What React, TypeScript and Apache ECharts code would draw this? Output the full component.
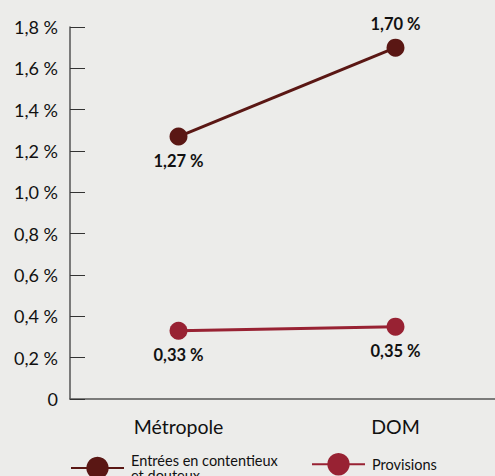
import React, { useEffect, useRef } from "react";
import * as echarts from "echarts";

// Categories and values (in %)
const categories = ["Métropole", "DOM"];
const contentieuxName = "Entrées en contentieux\net douteux";
const contentieuxValues = [1.27, 1.7];
const provisionsName = "Provisions";
const provisionsValues = [0.33, 0.35];

// Label placement per point: above or below the marker
const contentieuxLabelPos = ["bottom", "top"];
const provisionsLabelPos = ["bottom", "bottom"];

const DARK = "#5a1714";
const RED = "#982233";
const FONT = "Lato, 'Open Sans', sans-serif";

const fmtPct = (v: number, digits: number) =>
  v === 0 ? "0" : v.toFixed(digits).replace(".", ",") + " %";

export default function App() {
  const ref = useRef<HTMLDivElement>(null);

  useEffect(() => {
    if (!ref.current) return;
    const chart = echarts.init(ref.current, undefined, { renderer: "svg" });

    const makeData = (values: number[], pos: string[]) =>
      values.map((v, i) => ({
        value: v,
        label: { position: pos[i], distance: pos[i] === "top" ? 6 : 7 },
      }));

    const legendBase = {
      top: 453,
      padding: 0,
      itemWidth: 53,
      itemHeight: 28,
      textStyle: {
        fontFamily: FONT,
        fontSize: 14.5,
        lineHeight: 15,
        color: "#111",
        padding: [0, 0, 0, 2],
      },
      selectedMode: false,
    };

    const labelStyle = {
      show: true,
      fontFamily: FONT,
      fontSize: 16.5,
      fontWeight: "bold",
      color: "#111",
      formatter: (p: any) => fmtPct(p.value, 2),
    };

    chart.setOption({
      animation: false,
      backgroundColor: "#ececea",
      grid: {
        left: 70,
        width: 434,
        top: 27,
        bottom: 77,
        containLabel: false,
        outerBoundsMode: "none",
      },
      legend: [
        { ...legendBase, left: 70, data: [contentieuxName] },
        { ...legendBase, left: 311, data: [provisionsName] },
      ],
      xAxis: {
        type: "category",
        data: categories,
        boundaryGap: true,
        axisLine: { lineStyle: { color: "#555", width: 1.5 } },
        axisTick: { show: false },
        axisLabel: {
          fontFamily: FONT,
          fontSize: 19.5,
          color: "#111",
          margin: 17,
        },
      },
      yAxis: {
        type: "value",
        min: 0,
        max: 1.8,
        interval: 0.2,
        splitLine: { show: false },
        axisLine: { show: true, lineStyle: { color: "#555", width: 1.5 } },
        axisTick: {
          show: true,
          inside: true,
          length: 15,
          lineStyle: { color: "#333", width: 1 },
        },
        axisLabel: {
          fontFamily: FONT,
          fontSize: 18,
          color: "#111",
          margin: 12,
          formatter: (v: number) => fmtPct(v, 1),
        },
      },
      series: [
        {
          name: contentieuxName,
          type: "line",
          data: makeData(contentieuxValues, contentieuxLabelPos),
          symbol: "circle",
          symbolSize: 18,
          color: DARK,
          lineStyle: { color: DARK, width: 3 },
          itemStyle: { color: DARK },
          label: labelStyle,
        },
        {
          name: provisionsName,
          type: "line",
          data: makeData(provisionsValues, provisionsLabelPos),
          symbol: "circle",
          symbolSize: 18,
          color: RED,
          lineStyle: { color: RED, width: 3 },
          itemStyle: { color: RED },
          label: labelStyle,
        },
      ],
    });

    return () => chart.dispose();
  }, []);

  return (
    <div
      ref={ref}
      style={{ width: 495, height: 476, position: "absolute", left: 0, top: 0 }}
    />
  );
}
